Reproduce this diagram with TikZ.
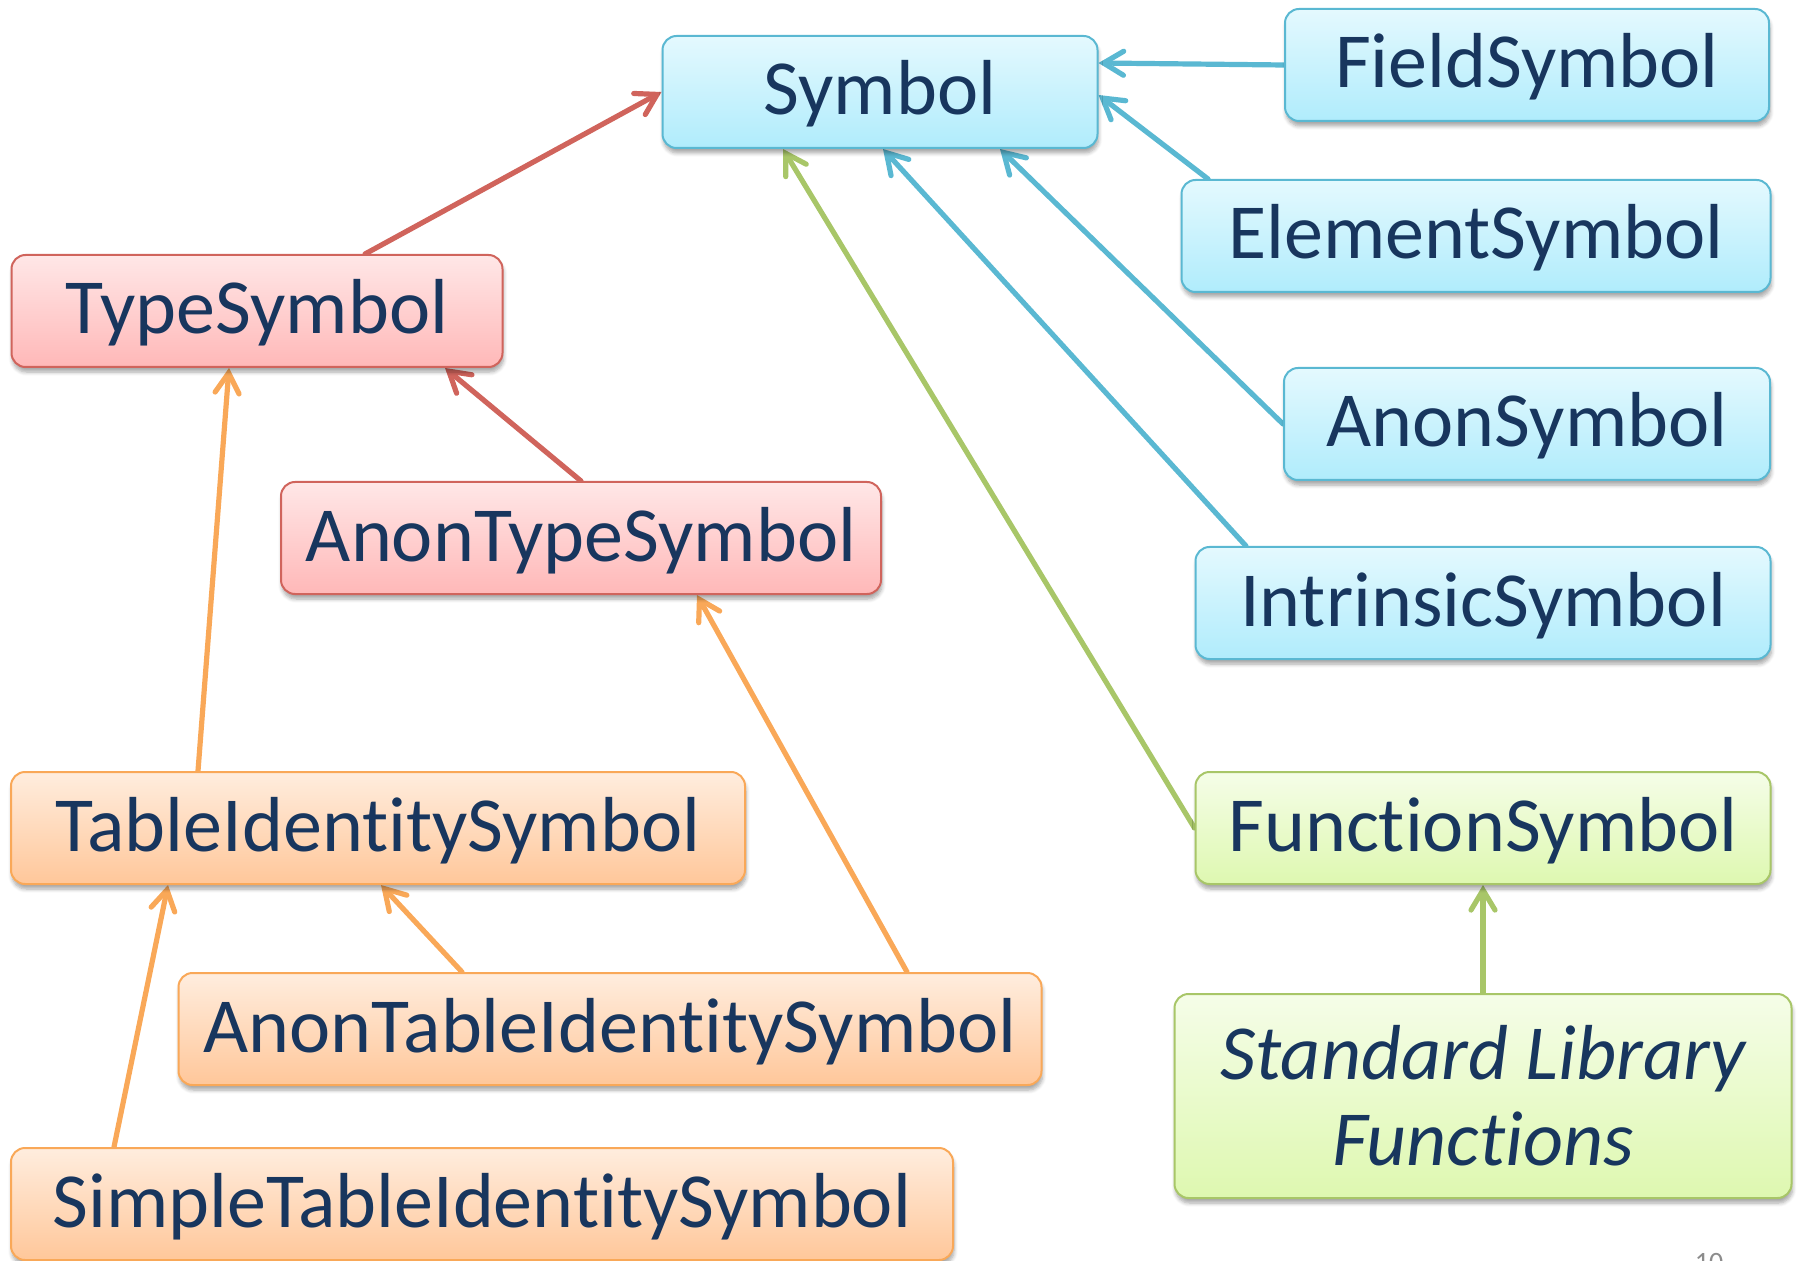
\documentclass[tikz,border=0pt]{standalone}
\usepackage{fontspec}
\setmainfont{Carlito}[Ligatures=NoCommon]
\usepackage{tikz}
\usetikzlibrary{arrows.meta,calc,backgrounds,shadows.blur}
\definecolor{ink}{RGB}{24,54,94}
\definecolor{bluetop}{RGB}{228,249,254}
\definecolor{bluebot}{RGB}{176,236,252}
\definecolor{blueline}{RGB}{90,184,210}
\definecolor{redtop}{RGB}{255,231,231}
\definecolor{redbot}{RGB}{255,184,184}
\definecolor{redline}{RGB}{208,100,92}
\definecolor{orangetop}{RGB}{255,237,222}
\definecolor{orangebot}{RGB}{255,199,154}
\definecolor{orangeline}{RGB}{249,168,88}
\definecolor{greentop}{RGB}{245,253,232}
\definecolor{greenbot}{RGB}{222,248,176}
\definecolor{greenline}{RGB}{168,198,104}
\definecolor{pagegrey}{RGB}{140,140,140}
\tikzstyle{classdiag}=[
  x=0.5pt,y=-0.5pt,>={Straight Barb[length=10pt,width=12pt,line cap=round]}
]
\tikzstyle{symnode}=[
  rounded corners=7pt,line width=1pt,minimum height=56pt,inner sep=0pt,
  text=ink,font=\fontsize{39}{43}\selectfont,text height=30pt,text depth=7pt,
  blur shadow={shadow xshift=0.5pt,shadow yshift=-2.5pt,shadow blur steps=6,shadow opacity=35}
]
\tikzstyle{bluenode}=[symnode,draw=blueline,top color=bluetop,bottom color=bluebot]
\tikzstyle{rednode}=[symnode,draw=redline,top color=redtop,bottom color=redbot]
\tikzstyle{orangenode}=[symnode,draw=orangeline,top color=orangetop,bottom color=orangebot]
\tikzstyle{greennode}=[symnode,draw=greenline,top color=greentop,bottom color=greenbot]
\tikzstyle{isa}=[
  ->,line width=2.6pt,line cap=round
]
\begin{document}
\begin{tikzpicture}[classdiag]
    \useasboundingbox (0,0) rectangle (1798,1261);
      % symbol side
      \node (sym) at (880,92) [bluenode,minimum width=217.5pt] {Symbol};
      \node (fs) at (1527,65) [bluenode,minimum width=242pt] {FieldSymbol};
      \node (es) at (1476,236) [bluenode,minimum width=294.5pt] {ElementSymbol};
      \node (as) at (1527,424) [bluenode,minimum width=243pt] {AnonSymbol};
      \node (is) at (1483,603) [bluenode,minimum width=287.5pt] {IntrinsicSymbol};
      \node (fun) at (1483,828) [greennode,minimum width=287.5pt] {FunctionSymbol};
      \node (std) at (1483,1096) [greennode,minimum width=308.5pt,minimum height=102pt,
        text height=,text depth=,align=center,
        font=\fontsize{39}{43}\selectfont\itshape] {Standard Library\\Functions};
      % type side
      \node (ts) at (257,311) [rednode,minimum width=245.5pt] {TypeSymbol};
      \node (ats) at (581,538) [rednode,minimum width=300pt] {AnonTypeSymbol};
      \node (tis) at (378,828) [orangenode,minimum width=367pt] {TableIdentitySymbol};
      \node (atis) at (610,1029) [orangenode,minimum width=431.5pt] {AnonTableIdentitySymbol};
      \node (stis) at (482,1204) [orangenode,minimum width=471pt] {SimpleTableIdentitySymbol};
      \node (pg) at (1709,1253) [anchor=north,inner sep=0pt,text=pagegrey,
        font=\fontsize{14}{16}\selectfont] {10};
    \begin{scope}[on background layer]
      \draw [isa,redline] ($(ts.north)+(108,0)$) -- (sym.west);
      \draw [isa,redline] (ats.north) -- ($(ts.south)+(188,0)$);
      \draw [isa,orangeline] ($(tis.north)+(-180,0)$) -- ($(ts.south)+(-28,0)$);
      \draw [isa,orangeline] ($(atis.north)+(-148,0)$) -- ($(tis.south)+(3,0)$);
      \draw [isa,orangeline] ($(atis.north)+(297,0)$) -- ($(ats.south)+(116,0)$);
      \draw [isa,orangeline] ($(stis.north)+(-368,0)$) -- ($(tis.south)+(-210,0)$);
      \draw [isa,blueline] (fs.west) -- ($(sym.east)+(0,-29)$);
      \draw [isa,blueline] ($(es.north)+(-268,0)$) -- ($(sym.east)+(0,3)$);
      \draw [isa,blueline] (as.west) -- ($(sym.south)+(120,0)$);
      \draw [isa,blueline] ($(is.north)+(-237,0)$) -- ($(sym.south)+(3,0)$);
      \draw [isa,greenline] (fun.west) -- ($(sym.south)+(-97,0)$);
      \draw [isa,greenline] (std.north) -- (fun.south);
    \end{scope}
    \end{tikzpicture}
\end{document}
